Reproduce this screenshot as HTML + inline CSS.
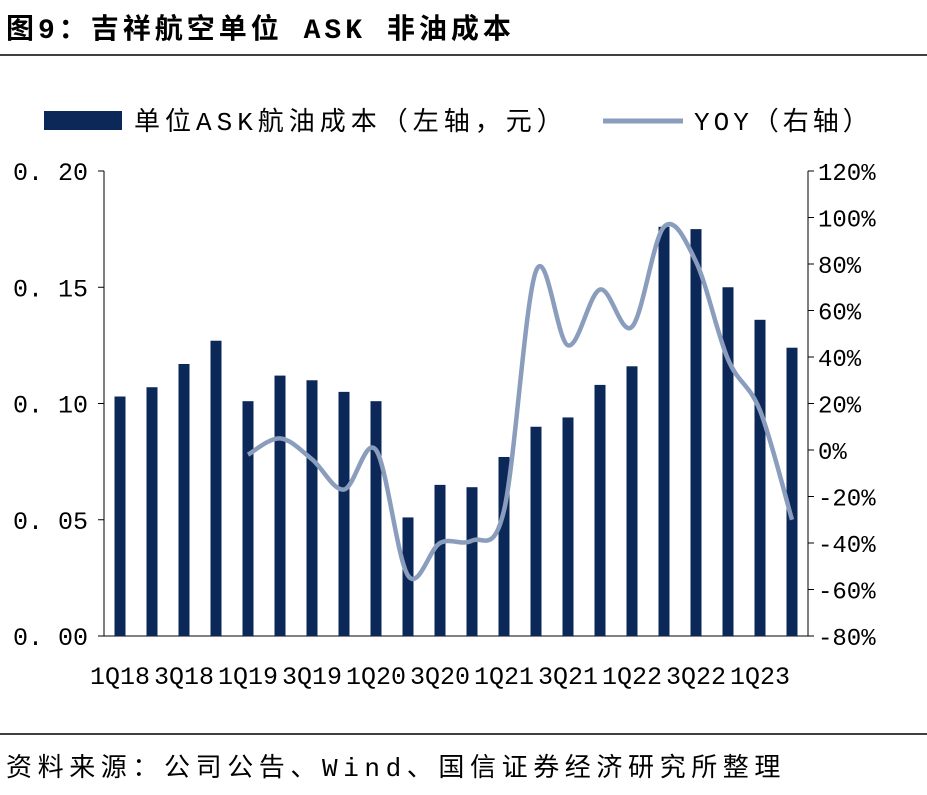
<!DOCTYPE html>
<html><head><meta charset="utf-8"><style>
body{margin:0;background:#fff;width:927px;height:790px;overflow:hidden;font-family:"Liberation Mono","Noto Sans CJK SC",monospace}
</style></head><body>
<svg width="927" height="790" xmlns="http://www.w3.org/2000/svg">
<text x="6" y="38" font-size="28" font-weight="bold" letter-spacing="4" fill="#000" font-family="Liberation Mono,Noto Sans CJK SC,monospace">图9：吉祥航空单位 ASK 非油成本</text>
<line x1="0" y1="55" x2="927" y2="55" stroke="#000" stroke-width="1.5"/>
<line x1="0" y1="734" x2="927" y2="734" stroke="#000" stroke-width="1.5"/>
<text x="6" y="776" font-size="26" letter-spacing="5.6" fill="#000" font-family="Liberation Mono,Noto Sans CJK SC,monospace">资料来源：公司公告、Wind、国信证券经济研究所整理</text>
<g>
<rect x="44" y="111" width="78" height="19" fill="#0b2858"/>
<text x="134" y="130" font-size="26" letter-spacing="5" font-family="Liberation Mono,Noto Sans CJK SC,monospace">单位ASK航油成本（左轴，元）</text>
<line x1="603" y1="121" x2="683" y2="121" stroke="#8b9dbd" stroke-width="5"/>
<text x="694" y="130" font-size="26" letter-spacing="4" font-family="Liberation Mono,Noto Sans CJK SC,monospace">YOY（右轴）</text>
</g>
<g id="plot"></g>
</svg>
<script>
const categories=["1Q18","2Q18","3Q18","4Q18","1Q19","2Q19","3Q19","4Q19","1Q20","2Q20","3Q20","4Q20","1Q21","2Q21","3Q21","4Q21","1Q22","2Q22","3Q22","4Q22","1Q23","2Q23"];
const costValues=[0.103,0.107,0.117,0.127,0.101,0.112,0.110,0.105,0.101,0.051,0.065,0.064,0.077,0.090,0.094,0.108,0.116,0.176,0.175,0.150,0.136,0.124];
const yoyValues=[null,null,null,null,-2,5,-4,-17,0,-54,-40,-39,-26,77,45,69,53,96,81,39,17,-30];
const leftTicks=["0.00","0.05","0.10","0.15","0.20"];
const rightTicks=["-80%","-60%","-40%","-20%","0%","20%","40%","60%","80%","100%","120%"];
const NS="http://www.w3.org/2000/svg";
const g=document.getElementById('plot');
const X0=104,X1=808,Y0=636,Y1=171;
const step=(X1-X0)/categories.length;
const xC=i=>X0+step*(i+0.5);
const yL=v=>Y0-(v/0.2)*(Y0-Y1);
const yR=v=>Y0-((v+80)/200)*(Y0-Y1);
function el(t,a){const e=document.createElementNS(NS,t);for(const k in a)e.setAttribute(k,a[k]);g.appendChild(e);return e;}
const F="Liberation Mono,Noto Sans CJK SC,monospace";
let ax=el('line',{x1:X0,y1:Y1,x2:X0,y2:Y0,stroke:'#000','stroke-width':1});

ax=el('line',{x1:X1,y1:Y1,x2:X1,y2:Y0,stroke:'#000','stroke-width':1});

ax=el('line',{x1:X0,y1:Y0,x2:X1,y2:Y0,stroke:'#000','stroke-width':1});

leftTicks.forEach(s=>{const y=yL(parseFloat(s));
 const t=el('line',{x1:X0-6,y1:y,x2:X0,y2:y,stroke:'#000'});
 
 const l=el('text',{x:X0-16,y:y+9,'font-size':25,'text-anchor':'end','font-family':F});l.textContent=s.replace('.','. ');
 });
rightTicks.forEach(s=>{const y=yR(parseFloat(s));
 const t=el('line',{x1:X1,y1:y,x2:X1+6,y2:y,stroke:'#000'});
 
 const l=el('text',{x:X1+10,y:y+9,'font-size':24,'font-family':F});l.textContent=s;
 });
costValues.forEach((v,i)=>{const r=el('rect',{x:xC(i)-5.5,y:yL(v),width:11,height:Y0-yL(v),fill:'#0b2858'});
 
 if(i%2===0){const l=el('text',{x:xC(i),y:Y0+48,'font-size':25,'text-anchor':'middle','font-family':F});l.textContent=categories[i];
 }});
const pts=[];yoyValues.forEach((v,i)=>{if(v!==null)pts.push([xC(i),yR(v)]);});
let d='M'+pts[0][0]+','+pts[0][1];
for(let i=0;i<pts.length-1;i++){const p0=pts[i-1]||pts[i],p1=pts[i],p2=pts[i+1],p3=pts[i+2]||p2;
 const c1=[p1[0]+(p2[0]-p0[0])/6,p1[1]+(p2[1]-p0[1])/6],c2=[p2[0]-(p3[0]-p1[0])/6,p2[1]-(p3[1]-p1[1])/6];
 d+=` C${c1[0]},${c1[1]} ${c2[0]},${c2[1]} ${p2[0]},${p2[1]}`;}
const ln=el('path',{d:d,fill:'none',stroke:'#8b9dbd','stroke-width':4.5,'stroke-linejoin':'round'});

</script>
</body></html>
